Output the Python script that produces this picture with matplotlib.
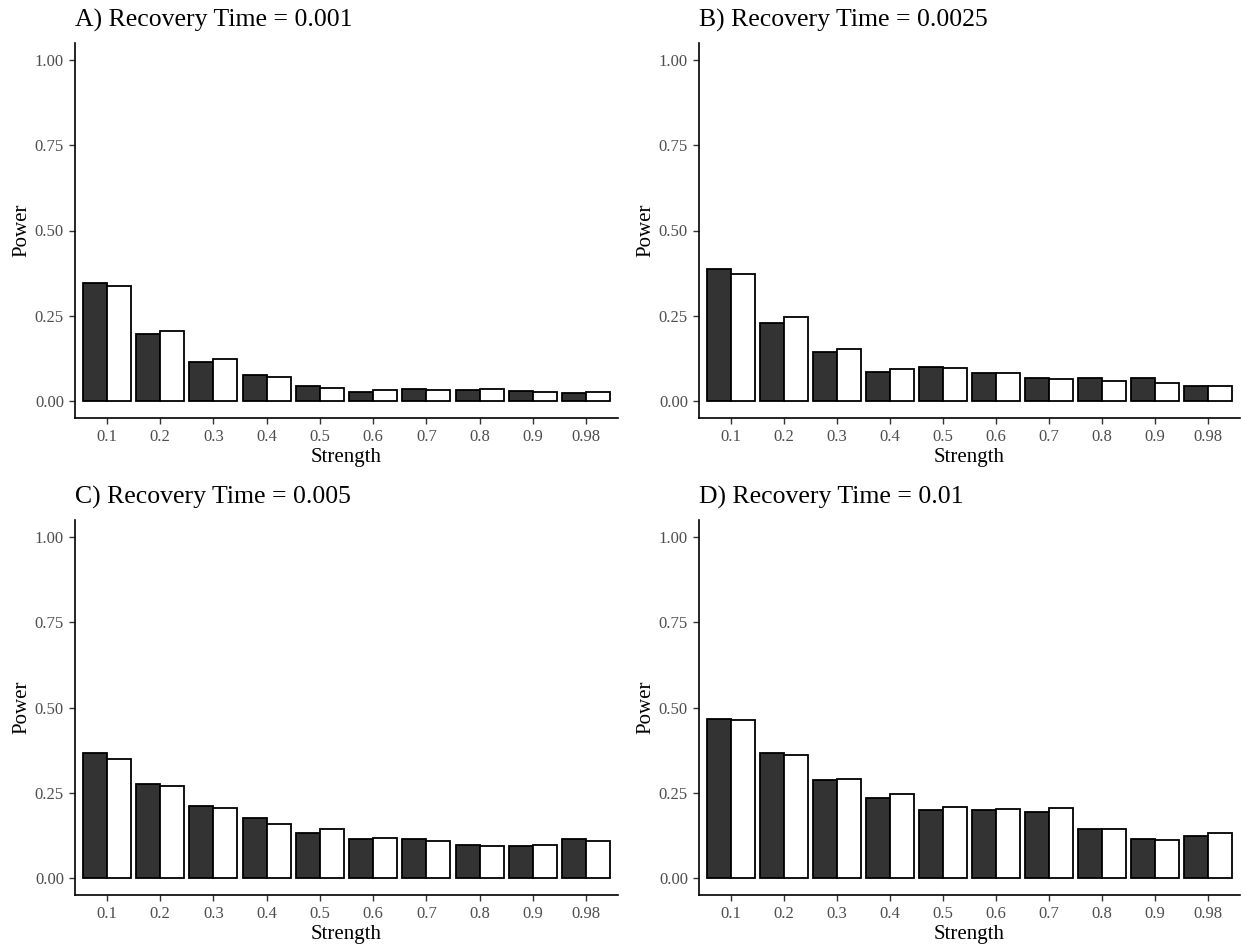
import matplotlib
matplotlib.use("Agg")
import matplotlib.pyplot as plt
import numpy as np

plt.rcParams['font.family'] = ['Liberation Serif', 'DejaVu Serif']

strength = ['0.1', '0.2', '0.3', '0.4', '0.5', '0.6', '0.7', '0.8', '0.9', '0.98']
titles = ['A) Recovery Time = 0.001', 'B) Recovery Time = 0.0025',
          'C) Recovery Time = 0.005', 'D) Recovery Time = 0.01']

# power per strength, dark bars then open bars, one pair of lists per recovery time
dark_a = [0.347, 0.196, 0.115, 0.075, 0.044, 0.026, 0.035, 0.031, 0.030, 0.024]
open_a = [0.338, 0.205, 0.122, 0.069, 0.039, 0.033, 0.033, 0.035, 0.026, 0.027]

dark_b = [0.388, 0.228, 0.144, 0.085, 0.100, 0.082, 0.066, 0.066, 0.068, 0.044]
open_b = [0.372, 0.246, 0.152, 0.095, 0.098, 0.081, 0.065, 0.058, 0.054, 0.044]

dark_c = [0.367, 0.277, 0.212, 0.176, 0.132, 0.115, 0.115, 0.097, 0.094, 0.115]
open_c = [0.350, 0.270, 0.206, 0.158, 0.143, 0.117, 0.109, 0.095, 0.097, 0.109]

dark_d = [0.465, 0.368, 0.286, 0.235, 0.200, 0.200, 0.192, 0.145, 0.114, 0.123]
open_d = [0.462, 0.361, 0.291, 0.247, 0.209, 0.201, 0.204, 0.145, 0.111, 0.132]

panels = [(dark_a, open_a), (dark_b, open_b), (dark_c, open_c), (dark_d, open_d)]

W, H = 1241, 944
fig = plt.figure(figsize=(W / 100, H / 100), dpi=100)

# panel boxes in pixels: left, right, top, bottom
boxes = [(75, 618, 43, 418), (699, 1240, 43, 418),
         (75, 618, 520, 895), (699, 1240, 520, 895)]

x = np.arange(len(strength))
w = 0.45
for (d, o), title, (l, r, t, b) in zip(panels, titles, boxes):
    ax = fig.add_axes([l / W, 1 - b / H, (r - l) / W, (b - t) / H])
    ax.bar(x - w / 2, d, width=w, color='#333333', edgecolor='black', linewidth=1.3)
    ax.bar(x + w / 2, o, width=w, color='white', edgecolor='black', linewidth=1.3)
    ax.set_xlim(-0.6, len(strength) - 0.4)
    ax.set_ylim(-0.05, 1.05)
    ax.set_xticks(x)
    ax.set_xticklabels(strength)
    ax.set_yticks([0, 0.25, 0.5, 0.75, 1.0])
    ax.set_yticklabels(['0.00', '0.25', '0.50', '0.75', '1.00'])
    ax.tick_params(labelsize=12, labelcolor='#4D4D4D', color='#333333',
                   length=4, width=1, pad=4)
    for side in ['top', 'right']:
        ax.spines[side].set_visible(False)
    for side in ['left', 'bottom']:
        ax.spines[side].set_linewidth(1.2)
    ax.set_xlabel('Strength', fontsize=15, labelpad=2)
    ax.set_ylabel('Power', fontsize=15, labelpad=2)
    ax.set_title(title, loc='left', fontsize=18.5, pad=12)

fig.savefig('out.png', dpi=100)
